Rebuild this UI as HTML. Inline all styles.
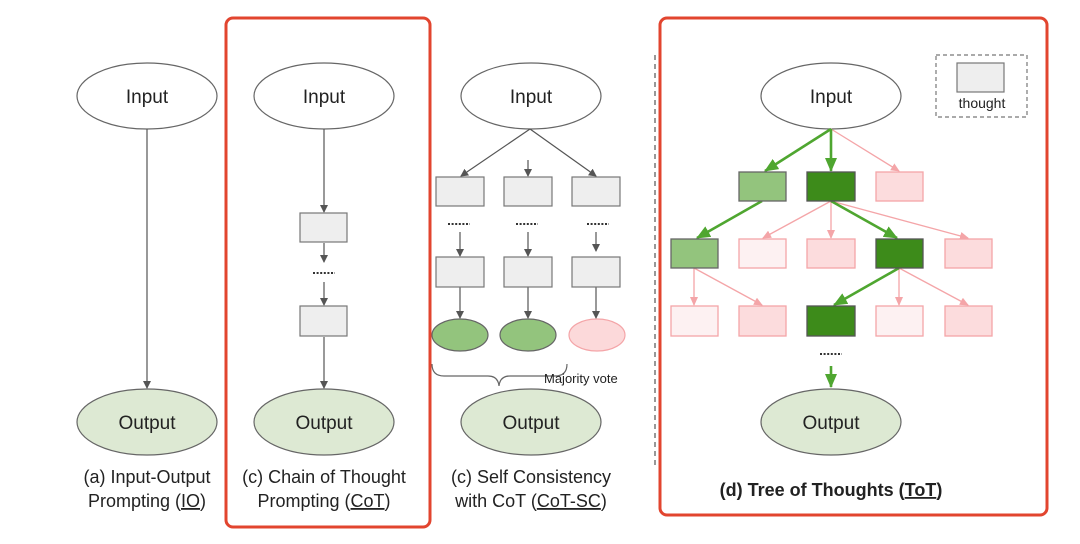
<!DOCTYPE html>
<html><head><meta charset="utf-8"><style>
html,body{margin:0;padding:0;background:#fff;}
svg{display:block;font-family:"Liberation Sans","DejaVu Sans",sans-serif;}
</style></head><body>
<svg width="1080" height="544" viewBox="0 0 1080 544" xmlns="http://www.w3.org/2000/svg">
<defs>
<marker id="ag" markerWidth="8" markerHeight="8" refX="7" refY="4" orient="auto" markerUnits="userSpaceOnUse"><path d="M0,0 L8,4 L0,8 z" fill="#555"/></marker>
<marker id="agr" markerWidth="14" markerHeight="12" refX="13" refY="6" orient="auto" markerUnits="userSpaceOnUse"><path d="M0,0 L14,6 L0,12 z" fill="#4fa630"/></marker>
<marker id="ap" markerWidth="9" markerHeight="8" refX="8" refY="4" orient="auto" markerUnits="userSpaceOnUse"><path d="M0,0 L9,4 L0,8 z" fill="#f4a5a8"/></marker>
</defs>
<g fill="none" stroke-width="3" stroke="#e2452f">
<rect x="226" y="18" width="204" height="509" rx="7"/>
<rect x="660" y="18" width="387" height="497" rx="7"/>
</g>
<line x1="655" y1="55" x2="655" y2="465" stroke="#777" stroke-width="1.5" stroke-dasharray="5,4"/>

<g stroke="#666" stroke-width="1.2">
<ellipse cx="147" cy="96" rx="70" ry="33" fill="#fff"/>
<ellipse cx="324" cy="96" rx="70" ry="33" fill="#fff"/>
<ellipse cx="531" cy="96" rx="70" ry="33" fill="#fff"/>
<ellipse cx="831" cy="96" rx="70" ry="33" fill="#fff"/>
<ellipse cx="147" cy="422" rx="70" ry="33" fill="#dde9d3"/>
<ellipse cx="324" cy="422" rx="70" ry="33" fill="#dde9d3"/>
<ellipse cx="531" cy="422" rx="70" ry="33" fill="#dde9d3"/>
<ellipse cx="831" cy="422" rx="70" ry="33" fill="#dde9d3"/>
<ellipse cx="460" cy="335" rx="28" ry="16" fill="#93c47d"/>
<ellipse cx="528" cy="335" rx="28" ry="16" fill="#93c47d"/>
<ellipse cx="597" cy="335" rx="28" ry="16" fill="#fcd9da" stroke="#f4a5a8"/>
</g>
<g font-size="19" fill="#222" text-anchor="middle">
<text x="147" y="103">Input</text><text x="324" y="103">Input</text><text x="531" y="103">Input</text><text x="831" y="103">Input</text>
<text x="147" y="429">Output</text><text x="324" y="429">Output</text><text x="531" y="429">Output</text><text x="831" y="429">Output</text>
</g>

<g stroke="#555" stroke-width="1.2" marker-end="url(#ag)">
<line x1="147" y1="129" x2="147" y2="388"/>
<line x1="324" y1="129" x2="324" y2="212"/>
<line x1="324" y1="243" x2="324" y2="262"/>
<line x1="324" y1="282" x2="324" y2="305"/>
<line x1="324" y1="337" x2="324" y2="388"/>
<line x1="530" y1="129" x2="461" y2="176"/>
<line x1="530" y1="129" x2="596" y2="176"/>
<line x1="528" y1="160" x2="528" y2="176"/>
<line x1="460" y1="232" x2="460" y2="256"/>
<line x1="528" y1="232" x2="528" y2="256"/>
<line x1="596" y1="232" x2="596" y2="251"/>
<line x1="460" y1="287" x2="460" y2="318"/>
<line x1="528" y1="287" x2="528" y2="318"/>
<line x1="596" y1="287" x2="596" y2="318"/>
</g>
<g fill="#eee" stroke="#777" stroke-width="1.2">
<rect x="300" y="213" width="47" height="29"/>
<rect x="300" y="306" width="47" height="30"/>
<rect x="436" y="177" width="48" height="29"/><rect x="504" y="177" width="48" height="29"/><rect x="572" y="177" width="48" height="29"/>
<rect x="436" y="257" width="48" height="30"/><rect x="504" y="257" width="48" height="30"/><rect x="572" y="257" width="48" height="30"/>
<rect x="957" y="63" width="47" height="29"/>
</g>
<g stroke="#333" stroke-width="2" stroke-dasharray="2,1.6">
<line x1="313" y1="273" x2="335" y2="273"/>
<line x1="448" y1="224" x2="470" y2="224"/>
<line x1="516" y1="224" x2="538" y2="224"/>
<line x1="587" y1="224" x2="609" y2="224"/>
<line x1="820" y1="354" x2="842" y2="354"/>
</g>
<path d="M432,364 q0,12 12,12 h44 q10,0 11,10 q1,-10 11,-10 h45 q12,0 12,-12" fill="none" stroke="#666" stroke-width="1.2"/>
<text x="544" y="383" font-size="13" fill="#222">Majority vote</text>

<rect x="936" y="55" width="91" height="62" fill="none" stroke="#777" stroke-width="1.2" stroke-dasharray="4,3"/>
<text x="982" y="108" font-size="14" fill="#222" text-anchor="middle">thought</text>

<g stroke="#f4a5a8" stroke-width="1.3" marker-end="url(#ap)">
<line x1="831" y1="129" x2="899" y2="171"/>
<line x1="831" y1="201" x2="763" y2="238"/>
<line x1="831" y1="201" x2="831" y2="238"/>
<line x1="831" y1="201" x2="968" y2="238"/>
<line x1="694" y1="268" x2="694" y2="305"/>
<line x1="694" y1="268" x2="762" y2="305"/>
<line x1="899" y1="268" x2="899" y2="305"/>
<line x1="899" y1="268" x2="968" y2="305"/>
</g>
<g stroke="#4fa630" stroke-width="2.6" marker-end="url(#agr)">
<line x1="831" y1="129" x2="765" y2="171"/>
<line x1="831" y1="129" x2="831" y2="171"/>
<line x1="762" y1="201" x2="697" y2="238"/>
<line x1="831" y1="201" x2="897" y2="238"/>
<line x1="899" y1="268" x2="834" y2="305"/>
<line x1="831" y1="366" x2="831" y2="387"/>
</g>
<g stroke-width="1.3">
<rect x="739" y="172" width="47" height="29" fill="#93c47d" stroke="#666"/>
<rect x="807" y="172" width="48" height="29" fill="#3d8b1a" stroke="#555"/>
<rect x="876" y="172" width="47" height="29" fill="#fcdcdd" stroke="#f4a5a8"/>
<rect x="671" y="239" width="47" height="29" fill="#93c47d" stroke="#666"/>
<rect x="739" y="239" width="47" height="29" fill="#fdf1f2" stroke="#f4a5a8"/>
<rect x="807" y="239" width="48" height="29" fill="#fcdcdd" stroke="#f4a5a8"/>
<rect x="876" y="239" width="47" height="29" fill="#3d8b1a" stroke="#555"/>
<rect x="945" y="239" width="47" height="29" fill="#fcdcdd" stroke="#f4a5a8"/>
<rect x="671" y="306" width="47" height="30" fill="#fdf1f2" stroke="#f4a5a8"/>
<rect x="739" y="306" width="47" height="30" fill="#fcdcdd" stroke="#f4a5a8"/>
<rect x="807" y="306" width="48" height="30" fill="#3d8b1a" stroke="#555"/>
<rect x="876" y="306" width="47" height="30" fill="#fdf1f2" stroke="#f4a5a8"/>
<rect x="945" y="306" width="47" height="30" fill="#fcdcdd" stroke="#f4a5a8"/>
</g>

<g font-size="18" fill="#222" text-anchor="middle">
<text x="147" y="483">(a) Input-Output</text>
<text x="147" y="507">Prompting (<tspan text-decoration="underline">IO</tspan>)</text>
<text x="324" y="483">(c) Chain of Thought</text>
<text x="324" y="507">Prompting (<tspan text-decoration="underline">CoT</tspan>)</text>
<text x="531" y="483">(c) Self Consistency</text>
<text x="531" y="507">with CoT (<tspan text-decoration="underline">CoT-SC</tspan>)</text>
<text x="831" y="496" font-weight="bold">(d) Tree of Thoughts (<tspan text-decoration="underline">ToT</tspan>)</text>
</g>
</svg>
</body></html>
